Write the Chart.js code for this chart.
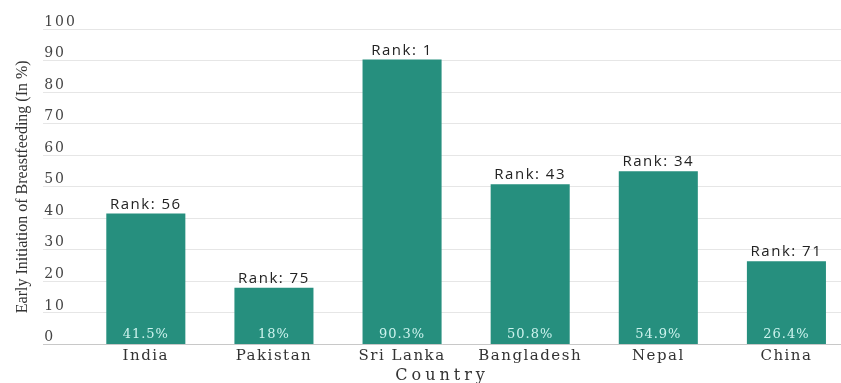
<!DOCTYPE html>
<html>
<head>
<meta charset="utf-8">
<script src="https://cdn.jsdelivr.net/npm/chart.js@4.4.0/dist/chart.umd.min.js"></script>
<style>
  html, body { margin: 0; padding: 0; background: #ffffff; }
  #wrap { width: 841px; height: 383px; position: relative; }
</style>
</head>
<body>
<div id="wrap"><canvas id="c"></canvas></div>
<script>
// ---- data ----
const countries = ['India', 'Pakistan', 'Sri Lanka', 'Bangladesh', 'Nepal', 'China'];
const breastfeeding = [41.5, 18, 90.3, 50.8, 54.9, 26.4];
const ranks = [56, 75, 1, 43, 34, 71];
const valueLabels = ['41.5%', '18%', '90.3%', '50.8%', '54.9%', '26.4%'];
const yTicks = [0, 10, 20, 30, 40, 50, 60, 70, 80, 90, 100];

const points = countries.map((c, i) => ({ x: i, y: breastfeeding[i] }));

function wrapSpacing(scale, name, sp) {
  if (scale['_wrapped_' + name]) return;
  const orig = scale[name].bind(scale);
  scale[name] = function (...args) {
    const ctx = scale.ctx;
    const prev = ctx.letterSpacing;
    ctx.letterSpacing = sp;
    orig(...args);
    ctx.letterSpacing = prev;
  };
  scale['_wrapped_' + name] = true;
}

const textSpacing = {
  id: 'textSpacing',
  beforeDraw(chart) {
    wrapSpacing(chart.scales.x, 'drawLabels', '1.5px');
    wrapSpacing(chart.scales.x, 'drawTitle', '4px');
    wrapSpacing(chart.scales.y, 'drawLabels', '2px');
    wrapSpacing(chart.scales.y, 'drawTitle', '0px');
  }
};

const barLabels = {
  id: 'barLabels',
  afterDatasetsDraw(chart) {
    const ctx = chart.ctx;
    const meta = chart.getDatasetMeta(0);
    ctx.save();
    ctx.textAlign = 'center';
    meta.data.forEach((bar, i) => {
      ctx.letterSpacing = '1.5px';
      ctx.font = '15px "Open Sans"';
      ctx.fillStyle = '#222222';
      ctx.textBaseline = 'alphabetic';
      ctx.fillText('Rank: ' + ranks[i], bar.x, bar.y - 5);
      ctx.letterSpacing = '1px';
      ctx.font = '13px "DejaVu Serif"';
      ctx.fillStyle = '#cdf3ee';
      ctx.textBaseline = 'middle';
      ctx.fillText(valueLabels[i], bar.x, bar.base - 9);
    });
    ctx.restore();
  }
};

new Chart(document.getElementById('c'), {
  type: 'bar',
  data: {
    datasets: [{
      data: points,
      backgroundColor: '#268f7e',
      borderWidth: 0,
      categoryPercentage: 1,
      barPercentage: 0.617
    }]
  },
  plugins: [textSpacing, barLabels],
  options: {
    responsive: true,
    maintainAspectRatio: false,
    animation: false,
    layout: { padding: { left: 9, right: 0, top: 29, bottom: 0 } },
    plugins: { legend: { display: false }, tooltip: { enabled: false } },
    scales: {
      x: {
        type: 'linear',
        offset: false,
        min: -0.801,
        max: 5.426,
        afterBuildTicks(scale) {
          scale.ticks = countries.map((c, i) => ({ value: i }));
        },
        grid: { display: false, drawTicks: false, offset: false },
        border: { display: true, color: '#c8c8c8', width: 1 },
        ticks: {
          autoSkip: false,
          maxRotation: 0,
          padding: 3,
          color: '#333333',
          font: { family: '"DejaVu Serif"', size: 15, lineHeight: 1.1 },
          callback: (v) => countries[v] !== undefined ? countries[v] : ''
        },
        title: {
          display: true,
          text: 'Country',
          color: '#333333',
          font: { family: '"DejaVu Serif"', size: 16, lineHeight: 1.0 },
          padding: { top: 0.5, bottom: -0.5 }
        }
      },
      y: {
        min: 0,
        max: 100,
        afterBuildTicks(scale) {
          scale.ticks = yTicks.map(v => ({ value: v }));
        },
        grid: { color: '#e6e6e6', drawTicks: false },
        border: { display: false },
        ticks: {
          mirror: true,
          padding: 1,
          labelOffset: -7,
          color: '#444444',
          font: { family: '"DejaVu Serif"', size: 14 }
        },
        title: {
          display: true,
          text: 'Early Initiation of Breastfeeding (In %)',
          color: '#333333',
          font: { family: '"Liberation Serif"', size: 16 },
          padding: { top: 4, bottom: 9 }
        }
      }
    }
  }
});
</script>
</body>
</html>
